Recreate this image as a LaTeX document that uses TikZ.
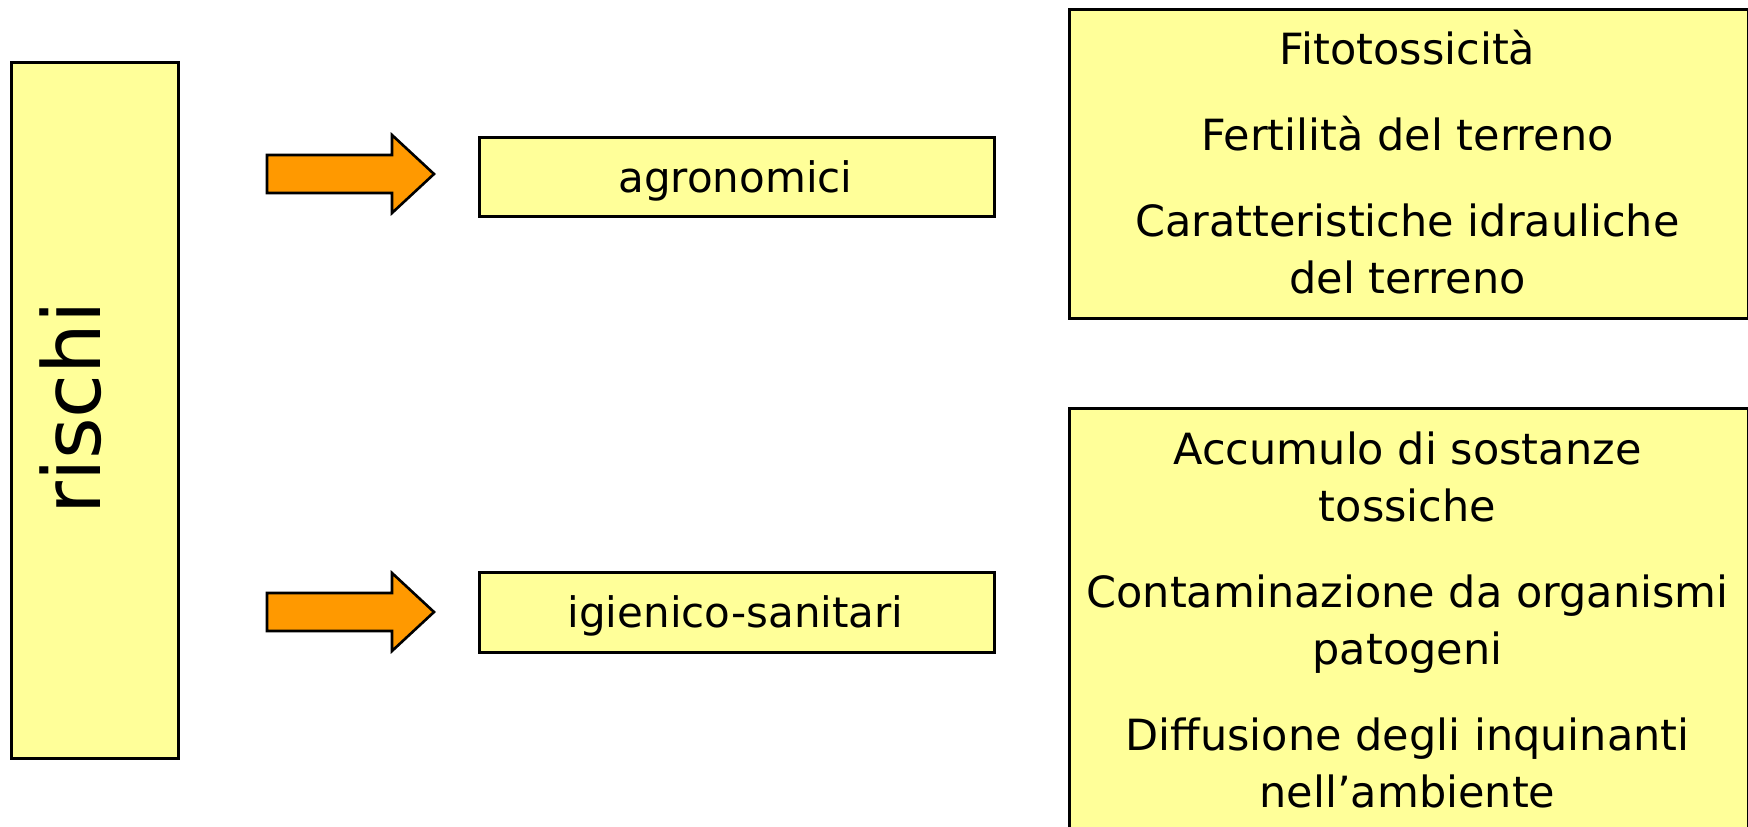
\documentclass[tikz,border=0pt]{standalone}
\usepackage{fontspec}
\setmainfont{DejaVu Sans}
\definecolor{boxyellow}{HTML}{FFFF99}
\definecolor{arroworange}{HTML}{FF9900}
\begin{document}
\begin{tikzpicture}[x=1pt,y=-1pt,
  box/.style={draw=black, line width=2.6pt, fill=boxyellow, inner sep=0pt, anchor=north west},
  blockarrow/.style={draw=black, line width=2.6pt, fill=arroworange, line join=miter},
  txt/.style={anchor=base, inner sep=0pt, font=\fontsize{43}{57}\selectfont},
  midtxt/.style={anchor=base, inner sep=0pt, font=\fontsize{42}{50}\selectfont}]
\useasboundingbox (0,0) rectangle (1748,827);
% boxes
\node[box, minimum width=167pt, minimum height=696pt] (rischi) at (10,61) {};
\node[box, minimum width=515pt, minimum height=79pt] (agr) at (478,136) {};
\node[box, minimum width=515pt, minimum height=80pt] (igi) at (478,571) {};
\node[box, minimum width=679pt, minimum height=309pt] (agrlist) at (1068,8) {};
\node[box, minimum width=679pt, minimum height=440pt] (igilist) at (1068,407) {};
% rotated title
\node[rotate=90, anchor=base, inner sep=0pt, font=\fontsize{80}{96}\selectfont] (rischiT) at (100,408) {rischi};
% middle labels
\node[midtxt] (agrT) at (735.5,192) {agronomici};
\node[midtxt] (igiT) at (735.5,627.5) {igienico-sanitari};
% top right list
\node[txt] (a1) at (1407.5,64) {Fitotossicità};
\node[txt] (a2) at (1407.5,150) {Fertilità del terreno};
\node[txt] (a3) at (1407.5,236) {Caratteristiche idrauliche};
\node[txt] (a4) at (1407.5,293) {del terreno};
% bottom right list
\node[txt] (b1) at (1407.5,464) {Accumulo di sostanze};
\node[txt] (b2) at (1407.5,521) {tossiche};
\node[txt] (b3) at (1407.5,607) {Contaminazione da organismi};
\node[txt] (b4) at (1407.5,664) {patogeni};
\node[txt] (b5) at (1407.5,750) {Diffusione degli inquinanti};
\node[txt] (b6) at (1407.5,807) {nell’ambiente};
% block arrows
\draw[blockarrow] (267,155) -- (392,155) -- (392,135) -- (434,174) -- (392,213) -- (392,193) -- (267,193) -- cycle;
\draw[blockarrow] (267,593) -- (392,593) -- (392,573) -- (434,612) -- (392,651) -- (392,631) -- (267,631) -- cycle;
\end{tikzpicture}
\end{document}
